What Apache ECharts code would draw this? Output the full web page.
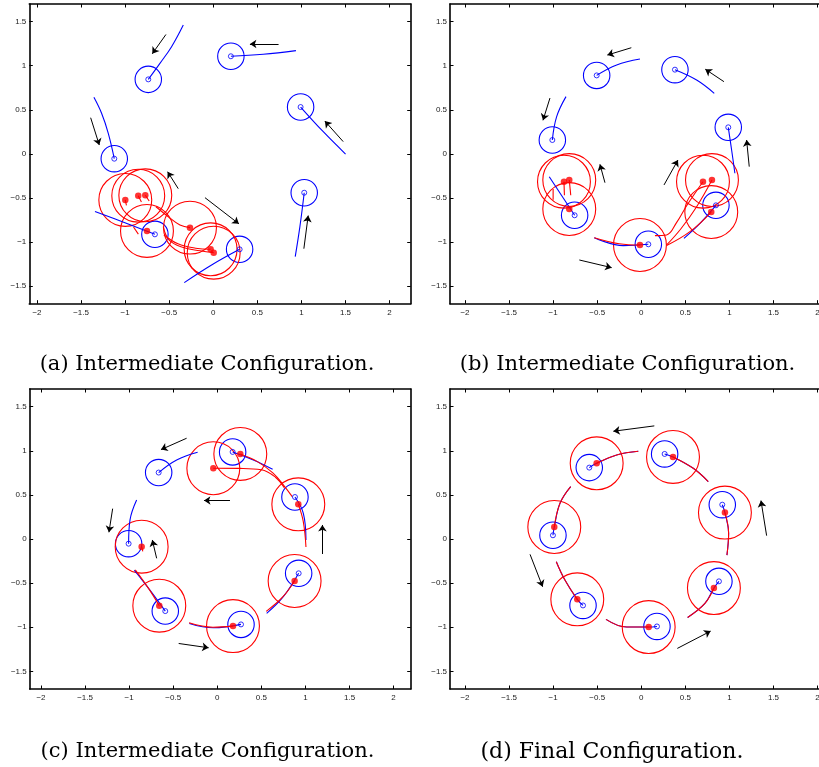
<!DOCTYPE html>
<html>
<head>
<meta charset="utf-8">
<script src="https://cdn.jsdelivr.net/npm/echarts@6/dist/echarts.min.js"></script>
<style>html,body{margin:0;padding:0;background:#fff}#c{width:819px;height:767px}</style>
</head>
<body>
<div id="c"></div>
<script>
// ---------- tick labels ----------
const xTicks = [-2, -1.5, -1, -0.5, 0, 0.5, 1, 1.5, 2];
const yTicks = [-1.5, -1, -0.5, 0, 0.5, 1, 1.5];
const captions = ['(a) Intermediate Configuration.', '(b) Intermediate Configuration.',
                  '(c) Intermediate Configuration.', '(d) Final Configuration.'];
const blueRadius = 0.15;
const redRadius = 0.30;

// ---------- panel (a) ----------
const aBlue = [[-0.737,0.845],[0.20,1.107],[0.991,0.531],[1.032,-0.441],[-1.123,-0.055],[-0.662,-0.913],[0.299,-1.083]];
const aBlueTracks = [
  [[-0.737,0.845],[-0.605,1.027],[-0.473,1.216],[-0.34,1.462]],
  [[0.20,1.107],[0.567,1.13],[0.938,1.171]],
  [[0.991,0.531],[1.248,0.251],[1.501,-0.002]],
  [[1.032,-0.441],[0.983,-0.826],[0.93,-1.166]],
  [[-1.123,-0.055],[-1.191,0.233],[-1.267,0.46],[-1.354,0.641]],
  [[-0.662,-0.913],[-1.002,-0.781],[-1.342,-0.653]],
  [[0.299,-1.083],[-0.019,-1.261],[-0.329,-1.461]]
];
const aRed = [[-0.998,-0.523],[-0.851,-0.475],[-0.771,-0.47],[-0.752,-0.875],[-0.264,-0.837],[-0.03,-1.083],[0.005,-1.121]];
const aRedTracks = [
  [[-0.998,-0.523],[-0.985,-0.585]],
  [[-0.851,-0.475],[-0.815,-0.545]],
  [[-0.771,-0.47],[-0.727,-0.535]],
  [[-0.65,-0.60],[-0.51,-0.713],[-0.378,-0.807],[-0.264,-0.837]],
  [[-0.567,-0.826],[-0.50,-0.98],[-0.35,-1.06],[-0.15,-1.10],[0.005,-1.121]],
  [[-0.56,-0.92],[-0.40,-1.02],[-0.2,-1.07],[-0.03,-1.083]],
  [[-0.905,-0.83],[-0.85,-0.91]]
];
const aArrows = [
  [[-0.537,1.354],[-0.692,1.135]],
  [[0.741,1.249],[0.416,1.245]],
  [[1.474,0.139],[1.266,0.372]],
  [[1.028,-1.076],[1.077,-0.70]],
  [[-1.391,0.41],[-1.293,0.10]],
  [[-0.397,-0.395],[-0.518,-0.203]],
  [[-0.094,-0.497],[0.291,-0.794]]
];

// ---------- panel (b) ----------
const bBlue = [[-0.506,0.89],[0.382,0.955],[0.987,0.301],[-1.009,0.157],[-0.756,-0.697],[0.08,-1.026],[0.847,-0.584]];
const bBlueTracks = [
  [[-0.506,0.89],[-0.279,1.008],[-0.015,1.076]],
  [[0.382,0.955],[0.628,0.838],[0.828,0.687]],
  [[0.987,0.301],[1.025,0.044],[1.062,-0.22]],
  [[-1.009,0.157],[-0.96,0.422],[-0.854,0.649]],
  [[-0.756,-0.697],[-1.044,-0.259]],
  [[0.08,-1.026],[-0.204,-1.041],[-0.533,-0.951]],
  [[0.847,-0.584],[0.666,-0.788],[0.484,-0.958]]
];
const bRed = [[-0.877,-0.316],[-0.817,-0.297],[-0.817,-0.626],[-0.015,-1.034],[0.70,-0.316],[0.802,-0.297],[0.794,-0.66]];
const bRedTracks = [
  [[-0.877,-0.316],[-0.872,-0.47]],
  [[-0.817,-0.297],[-0.80,-0.47]],
  [[-1.0,-0.40],[-1.0,-0.52]],
  [[-0.015,-1.034],[-0.25,-1.02],[-0.533,-0.951]],
  [[0.155,-0.928],[0.288,-0.92],[0.40,-0.78],[0.52,-0.58],[0.70,-0.316]],
  [[0.288,-1.034],[0.45,-0.85],[0.628,-0.60],[0.802,-0.297]],
  [[0.288,-1.04],[0.552,-0.883],[0.794,-0.66]]
];
const bArrows = [
  [[-0.113,1.204],[-0.385,1.121]],
  [[0.938,0.819],[0.726,0.96]],
  [[1.225,-0.145],[1.195,0.157]],
  [[-1.036,0.633],[-1.115,0.38]],
  [[-0.412,-0.327],[-0.469,-0.119]],
  [[0.258,-0.353],[0.416,-0.07]],
  [[-0.703,-1.204],[-0.336,-1.291]]
];

// ---------- panel (c) ----------
const cBlue = [[-0.665,0.753],[0.174,0.987],[0.881,0.476],[0.923,-0.389],[0.269,-0.968],[-0.59,-0.817],[-1.006,-0.053]];
const cBlueTracks = [
  [[-0.665,0.753],[-0.461,0.896],[-0.223,0.983]],
  [[0.174,0.987],[0.409,0.896],[0.628,0.79]],
  [[0.881,0.476],[0.976,0.291],[1.006,-0.011]],
  [[0.923,-0.389],[0.749,-0.654],[0.56,-0.843]],
  [[0.269,-0.968],[-0.045,-1.006],[-0.317,-0.957]],
  [[-0.59,-0.817],[-0.764,-0.579],[-0.941,-0.352]],
  [[-1.006,-0.053],[-0.99,0.216],[-0.915,0.442]]
];
const cRed = [[0.261,0.964],[-0.045,0.802],[0.919,0.393],[0.877,-0.476],[0.178,-0.987],[-0.658,-0.756],[-0.858,-0.087]];
const cRedTracks = [
  [[-0.045,0.802],[0.25,0.80],[0.50,0.785],[0.66,0.70],[0.76,0.58]],
  [[0.261,0.964],[0.45,0.88],[0.63,0.75],[0.76,0.60],[0.85,0.48]],
  [[0.919,0.393],[0.975,0.20],[1.006,-0.09]],
  [[0.877,-0.476],[0.74,-0.66],[0.555,-0.82]],
  [[0.178,-0.987],[-0.05,-1.0],[-0.32,-0.95]],
  [[-0.658,-0.756],[-0.78,-0.56],[-0.93,-0.35]],
  [[-0.858,-0.087],[-0.845,-0.14]]
];
const cArrows = [
  [[-0.348,1.142],[-0.639,1.013]],
  [[0.144,0.439],[-0.151,0.435]],
  [[1.195,-0.17],[1.192,0.159]],
  [[-1.187,0.344],[-1.229,0.076]],
  [[-0.688,-0.219],[-0.737,-0.011]],
  [[-0.438,-1.184],[-0.098,-1.233]]
];

// ---------- panel (d) ----------
const dBlue = [[-0.59,0.809],[0.265,0.964],[0.919,0.389],[0.881,-0.48],[0.178,-0.991],[-0.661,-0.753],[-1.002,0.042]];
const dRed = [[-0.506,0.858],[0.36,0.93],[0.949,0.299],[0.824,-0.556],[0.084,-0.998],[-0.726,-0.684],[-0.987,0.136]];
const dRedTracks = [
  [[-0.506,0.858],[-0.279,0.953],[-0.034,0.994]],
  [[0.36,0.93],[0.59,0.801],[0.76,0.65]],
  [[0.949,0.299],[0.991,0.064],[0.972,-0.182]],
  [[0.824,-0.556],[0.722,-0.73],[0.526,-0.889]],
  [[0.084,-0.998],[-0.166,-0.998],[-0.40,-0.911]],
  [[-0.726,-0.684],[-0.866,-0.465],[-0.964,-0.257]],
  [[-0.987,0.136],[-0.922,0.405],[-0.801,0.594]]
];
const dBlueTracks = [
  [[-0.59,0.809],[-0.506,0.858],[-0.279,0.953],[-0.034,0.994]],
  [[0.265,0.964],[0.36,0.93],[0.59,0.801],[0.76,0.65]],
  [[0.919,0.389],[0.949,0.299],[0.991,0.064],[0.972,-0.182]],
  [[0.881,-0.48],[0.824,-0.556],[0.722,-0.73],[0.526,-0.889]],
  [[0.178,-0.991],[0.084,-0.998],[-0.166,-0.998],[-0.40,-0.911]],
  [[-0.661,-0.753],[-0.726,-0.684],[-0.866,-0.465],[-0.964,-0.257]],
  [[-1.002,0.042],[-0.987,0.136],[-0.922,0.405],[-0.801,0.594]]
];
const dArrows = [
  [[0.148,1.282],[-0.317,1.221]],
  [[1.422,0.038],[1.358,0.435]],
  [[-1.262,-0.174],[-1.119,-0.541]],
  [[0.409,-1.24],[0.787,-1.044]]
];

// ---------- layout ----------
const panels = [
  {grid:{left:29.3, top:4, width:381.4, height:299.7}, x:[-2.087,2.24],
   blue:aBlue, blueTracks:aBlueTracks, red:aRed, redTracks:aRedTracks, arrows:aArrows, cap:[207,364.5], fs:21},
  {grid:{left:450, top:4, width:381.4, height:299.7}, x:[-2.17,2.157],
   blue:bBlue, blueTracks:bBlueTracks, red:bRed, redTracks:bRedTracks, arrows:bArrows, cap:[627.5,364.5], fs:21},
  {grid:{left:29.7, top:389, width:381, height:300}, x:[-2.128,2.194],
   blue:cBlue, blueTracks:cBlueTracks, red:cRed, redTracks:cRedTracks, arrows:cArrows, cap:[207.5,752], fs:21},
  {grid:{left:450, top:389, width:381.4, height:300}, x:[-2.17,2.157],
   blue:dBlue, blueTracks:dBlueTracks, red:dRed, redTracks:dRedTracks, arrows:dArrows, cap:[612,752], fs:22}
];

const BLUE = '#0000ff', RED = '#ff0000';
const fmt = v => (v < 0 ? '\u2212' + Math.abs(v) : String(v));

function axisCommon(ticks, showLabel, margin) {
  return {
    axisLine: {show: true, onZero: false, lineStyle: {color: '#000', width: 1.6}},
    axisTick: {show: true, inside: true, length: 3.5, customValues: ticks, lineStyle: {color: '#000', width: 1}},
    axisLabel: {show: showLabel, customValues: ticks, formatter: fmt, fontSize: 8,
                fontFamily: 'Liberation Sans', color: '#222', margin: margin},
    splitLine: {show: false}
  };
}

const grids = [], xAxes = [], yAxes = [], series = [], graphics = [];
panels.forEach((p, i) => {
  grids.push(Object.assign({containLabel: false, outerBoundsMode: 'none'}, p.grid));
  ['bottom', 'top'].forEach(pos => xAxes.push(Object.assign({type: 'value', gridIndex: i, position: pos,
    min: p.x[0], max: p.x[1]}, axisCommon(xTicks, pos === 'bottom', 5))));
  ['left', 'right'].forEach(pos => yAxes.push(Object.assign({type: 'value', gridIndex: i, position: pos,
    min: -1.7, max: 1.7}, axisCommon(yTicks, pos === 'left', 3))));
  const ax = {xAxisIndex: i * 2, yAxisIndex: i * 2};

  const circ = (pts, R, color) => Object.assign({
    type: 'custom', clip: true, silent: true, data: pts, encode: {x: 0, y: 1}, z: 2,
    renderItem: (params, api) => {
      const c = api.coord([api.value(0), api.value(1)]);
      const s = api.size([R, R]);
      return {type: 'circle', shape: {cx: c[0], cy: c[1], r: s[0]},
              style: {fill: 'none', stroke: color, lineWidth: 1.1}};
    }
  }, ax);
  series.push(circ(p.blue, blueRadius, BLUE));
  series.push(circ(p.red, redRadius, RED));

  const track = (pts, color) => Object.assign({
    type: 'line', data: pts, smooth: 0.4, symbol: 'none', showSymbol: false, clip: true, silent: true, z: 3,
    lineStyle: {color: color, width: 1.1}
  }, ax);
  p.blueTracks.forEach(t => series.push(track(t, BLUE)));
  p.redTracks.forEach(t => series.push(track(t, RED)));

  series.push(Object.assign({
    type: 'lines', coordinateSystem: 'cartesian2d', silent: true, z: 4,
    symbol: ['none', 'arrow'], symbolSize: 6.5,
    lineStyle: {color: '#000', width: 1, opacity: 1},
    data: p.arrows.map(a => ({coords: a}))
  }, ax));

  series.push(Object.assign({
    type: 'scatter', data: p.red, symbol: 'circle', symbolSize: 6.5, silent: true, z: 5,
    itemStyle: {color: RED}
  }, ax));
  series.push(Object.assign({
    type: 'scatter', data: p.blue, symbol: 'circle', symbolSize: 5, silent: true, z: 6,
    itemStyle: {color: 'rgba(0,0,0,0)', borderColor: BLUE, borderWidth: 1}
  }, ax));

  graphics.push({type: 'text', x: p.cap[0], y: p.cap[1], silent: true,
    style: {text: captions[i], font: p.fs + 'px "DejaVu Serif"', fill: '#000',
            textAlign: 'center', textVerticalAlign: 'middle'}});
});

const chart = echarts.init(document.getElementById('c'), null, {renderer: 'canvas'});
chart.setOption({
  animation: false,
  backgroundColor: '#fff',
  grid: grids, xAxis: xAxes, yAxis: yAxes, series: series, graphic: graphics
});
</script>
</body>
</html>
